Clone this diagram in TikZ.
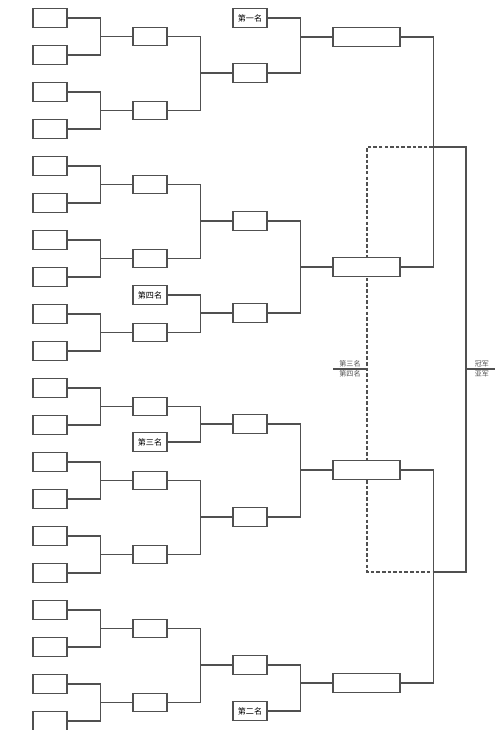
\documentclass[tikz,border=0pt]{standalone}
\usepackage{fontspec}
\newfontfamily\cjk{Noto Sans CJK SC}
\usepackage{tikz}
\usetikzlibrary{positioning}
\usepackage{xcolor}
\definecolor{linegray}{RGB}{80,80,80}

\tikzset{
  slot/.style={draw=linegray, line width=0.6pt, fill=white, minimum width=0.68cm,
    minimum height=0.37cm, inner sep=0pt, font=\cjk\fontsize{4.6}{5}\selectfont},
  wideslot/.style={slot, minimum width=1.34cm},
  link/.style={draw=linegray, line width=0.6pt},
  tag/.style={inner sep=0.6pt, font=\cjk\fontsize{4}{4.5}\selectfont, text=linegray},
}

\begin{document}
\begin{tikzpicture}[x=0.02cm, y=-0.02cm]
  \useasboundingbox (0,0) rectangle (500,730);

  % joints of the final rounds
  \coordinate (j1) at (433,147);
  \coordinate (j2) at (433,572);
  \coordinate (f1) at (466,147);
  \coordinate (f2) at (466,572);
  \coordinate (fin) at (466,369);
  \coordinate (champ) at (495,369);
  \coordinate (l1) at (367,147);
  \coordinate (l2) at (367,572);
  \coordinate (third) at (367,369);
  \coordinate (thirdend) at (333,369);

  % losers of the semifinals
  \draw[link, dash pattern=on 2pt off 1.2pt] (j1) -- (l1) -- (l2) -- (j2);

  % first round
  \foreach \i in {0,...,19}
    \node[slot] (a\i) at (50,{18+37*\i}) {};

  % second round
  \foreach \j in {0,...,9}
    \node[slot] (b\j) at (150,{36.5+74*\j}) {};
  \node[slot] (b4th) at (150,295) {第四名};
  \node[slot] (b3rd) at (150,442) {第三名};

  \foreach \j [evaluate=\j as \p using int(2*\j), evaluate=\j as \q using int(2*\j+1)] in {0,...,9} {
    \draw[link] (a\p.east) -- ++(33,0) |- (b\j.west);
    \draw[link] (a\q.east) -- ++(33,0) |- (b\j.west);
  }

  % third round
  \node[slot] (c1st) at (250,18) {第一名};
  \node[slot] (c1) at (250,73) {};
  \node[slot] (c2) at (250,221) {};
  \node[slot] (c3) at (250,313) {};
  \node[slot] (c4) at (250,424) {};
  \node[slot] (c5) at (250,517) {};
  \node[slot] (c6) at (250,665) {};
  \node[slot] (c2nd) at (250,711) {第二名};

  \foreach \u/\v/\w in {b0/b1/c1, b2/b3/c2, b4th/b4/c3, b5/b3rd/c4, b6/b7/c5, b8/b9/c6} {
    \draw[link] (\u.east) -- ++(33,0) |- (\w.west);
    \draw[link] (\v.east) -- ++(33,0) |- (\w.west);
  }

  % quarterfinals
  \node[wideslot] (d1) at (366.5,37) {};
  \node[wideslot] (d2) at (366.5,267) {};
  \node[wideslot] (d3) at (366.5,470) {};
  \node[wideslot] (d4) at (366.5,683) {};

  \foreach \u/\v/\w in {c1st/c1/d1, c2/c3/d2, c4/c5/d3, c6/c2nd/d4} {
    \draw[link] (\u.east) -- ++(33,0) |- (\w.west);
    \draw[link] (\v.east) -- ++(33,0) |- (\w.west);
  }

  % semifinals and final
  \draw[link] (d1.east) -- ++(33,0) |- (d2.east);
  \draw[link] (d3.east) -- ++(33,0) |- (d4.east);
  \draw[link] (j1) -- (f1) -- (f2) -- (j2);
  \draw[link] (fin) -- (champ)
    node[tag, pos=0.55, above] (gold) {冠军}
    node[tag, pos=0.55, below] (silver) {亚军};
  \draw[link] (thirdend) -- (third)
    node[tag, pos=0.5, above] (bronze) {第三名}
    node[tag, pos=0.5, below] (fourth) {第四名};
\end{tikzpicture}
\end{document}
